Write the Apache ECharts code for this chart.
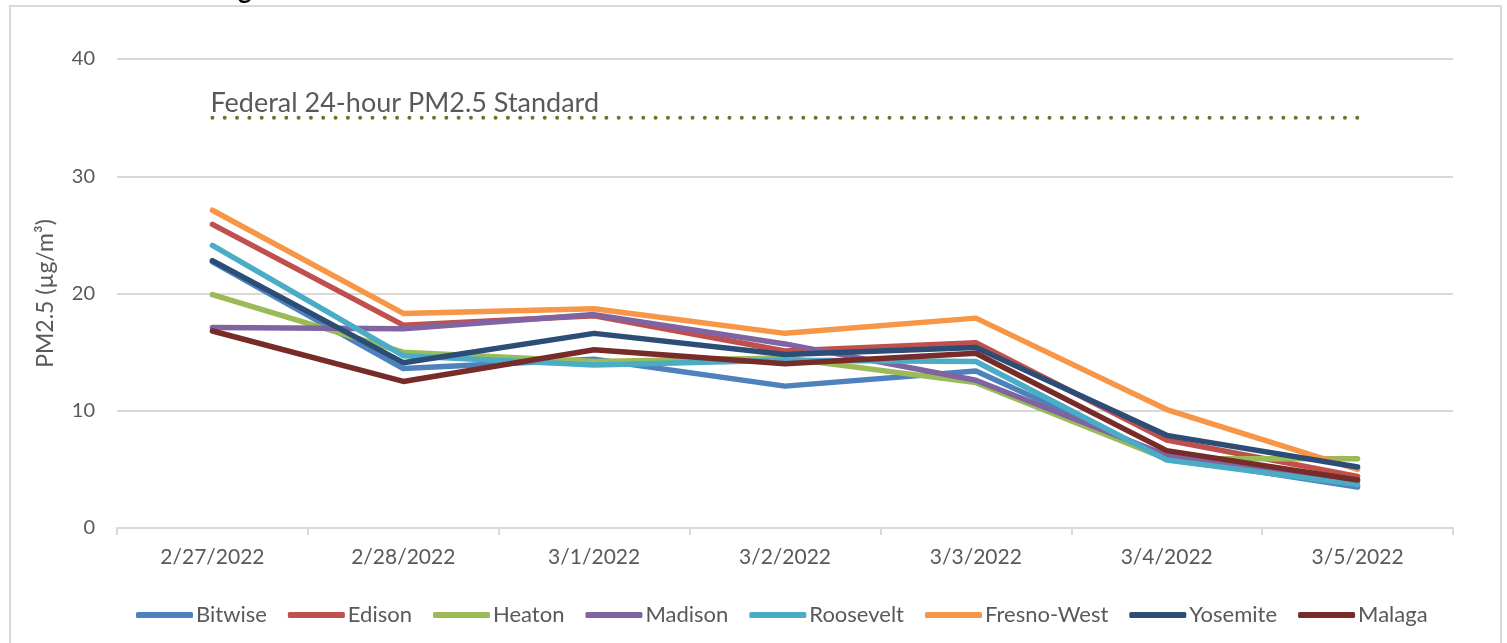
<!DOCTYPE html>
<html>
<head>
<meta charset="utf-8">
<script src="https://cdn.jsdelivr.net/npm/echarts@6/dist/echarts.min.js"></script>
<style>
html,body{margin:0;padding:0;background:#fff;}
#chart{width:1507px;height:643px;}
</style>
</head>
<body>
<div id="chart"></div>
<script>
const categories = ['2/27/2022','2/28/2022','3/1/2022','3/2/2022','3/3/2022','3/4/2022','3/5/2022'];
const bitwise    = [22.7, 13.6, 14.4, 12.1, 13.4, 6.0, 3.5];
const edison     = [25.9, 17.3, 18.1, 15.1, 15.8, 7.5, 4.4];
const heaton     = [19.9, 15.0, 14.2, 14.5, 12.4, 5.9, 5.9];
const madison    = [17.1, 17.0, 18.2, 15.7, 12.6, 6.2, 4.0];
const roosevelt  = [24.1, 14.7, 13.9, 14.3, 14.2, 5.8, 3.7];
const fresnoWest = [27.1, 18.3, 18.7, 16.6, 17.9, 10.1, 5.0];
const yosemite   = [22.8, 14.1, 16.6, 14.8, 15.4, 7.9, 5.2];
const malaga     = [16.8, 12.5, 15.2, 14.0, 14.9, 6.6, 4.1];
const standardValue = 35;
const standardLabel = 'Federal 24-hour PM2.5 Standard';
const yTicks = [0, 10, 20, 30, 40];

const seriesDefs = [
  ['Bitwise', bitwise, '#4F81BD'],
  ['Edison', edison, '#C0504D'],
  ['Heaton', heaton, '#9BBB59'],
  ['Madison', madison, '#8064A2'],
  ['Roosevelt', roosevelt, '#4BACC6'],
  ['Fresno-West', fresnoWest, '#F79646'],
  ['Yosemite', yosemite, '#2C4D75'],
  ['Malaga', malaga, '#772C2A']
];
const FONT = 'Lato';
const TXT = '#595959';

const chart = echarts.init(document.getElementById('chart'));
const series = seriesDefs.map(([name, data, color]) => ({
  name, type: 'line', data, showSymbol: false, symbol: 'none',
  lineStyle: { width: 5.5, color, cap: 'round', join: 'round' },
  itemStyle: { color },
  emphasis: { disabled: true },
  z: 3
}));
series.unshift({
  name: 'Standard', type: 'line',
  data: categories.map((c, i) => i === 0 ? {
    value: standardValue,
    label: { show: true, formatter: standardLabel, position: 'top', align: 'left', distance: 1,
      offset: [-2, 0], color: TXT, fontFamily: FONT, fontSize: 27 }
  } : standardValue),
  symbol: 'circle', symbolSize: 0.01, showSymbol: true,
  itemStyle: { color: 'rgba(0,0,0,0)' },
  lineStyle: { width: 4, color: '#5F7A2E', type: [0.01, 12.3], cap: 'round' },
  silent: true, z: 2
});

chart.setOption({
  backgroundColor: '#fff',
  animation: false,
  textStyle: { fontFamily: FONT },
  grid: { left: 117, right: 54, top: 59, bottom: 115, containLabel: false },
  xAxis: {
    type: 'category', data: categories, boundaryGap: true,
    axisLine: { lineStyle: { color: '#D9D9D9', width: 2 } },
    axisTick: { show: true, length: 7, lineStyle: { color: '#D9D9D9', width: 2 } },
    axisLabel: { color: TXT, fontSize: 21, fontFamily: FONT, margin: 19 }
  },
  yAxis: {
    type: 'value', min: yTicks[0], max: yTicks[yTicks.length - 1], interval: 10,
    name: 'PM2.5 (µg/m³)', nameLocation: 'middle', nameGap: 60, nameRotate: 90,
    nameTextStyle: { color: TXT, fontSize: 23, fontFamily: FONT },
    axisLine: { show: false }, axisTick: { show: false },
    axisLabel: { color: TXT, fontSize: 20, fontFamily: FONT, margin: 22 },
    splitLine: { lineStyle: { color: '#D9D9D9', width: 2 } }
  },
  legend: {
    data: seriesDefs.map(s => s[0]),
    left: 131, top: 599,
    icon: 'roundRect', itemWidth: 57, itemHeight: 6, itemGap: 21,
    textStyle: { color: TXT, fontSize: 22, fontFamily: FONT, padding: [0, 0, 0, -2] }
  },
  graphic: [
    { type: 'rect', shape: { x: 10, y: 6, width: 1491, height: 660 }, style: { fill: 'none', stroke: '#D9D9D9', lineWidth: 2 }, silent: true },
    { type: 'text', left: 238, top: -22, style: { text: 'g', fill: '#000', font: 'bold 26px Lato' }, silent: true }
  ],
  series
});
</script>
</body>
</html>
